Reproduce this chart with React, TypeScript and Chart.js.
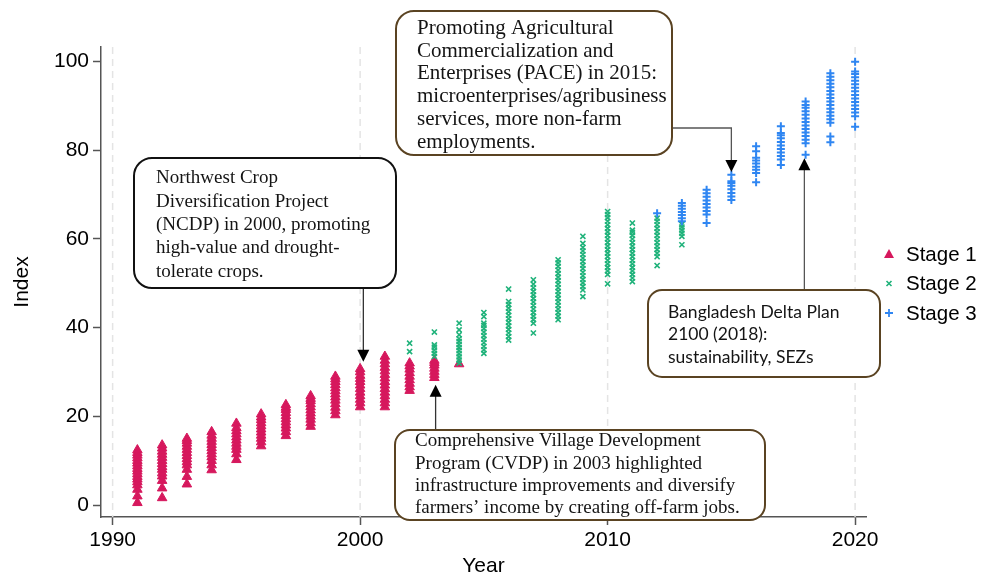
import React, { useEffect, useRef } from "react";
import { Chart, registerables } from "chart.js";

Chart.register(...registerables);

// ---------- DATA ----------
const seriesLabels = ["Stage 1", "Stage 2", "Stage 3"];
const seriesColors = ["#d6185d", "#1fb27a", "#2f86f2"];

const stage1Years = [1991, 1992, 1993, 1994, 1995, 1996, 1997, 1998, 1999, 2000, 2001, 2002, 2003, 2004];
const stage1Values = [
  [0.5, 2.0, 3.5, 4.5, 5.2, 5.8, 6.4, 7.0, 7.6, 8.2, 8.8, 9.4, 10.0, 10.6, 11.2, 11.8, 12.4],
  [1.6, 3.8, 5.5, 6.5, 7.2, 8.0, 8.6, 9.3, 10.0, 10.7, 11.4, 12.1, 12.8, 13.5],
  [4.7, 6.4, 8.0, 9.0, 9.7, 10.4, 11.1, 11.8, 12.5, 13.2, 13.9, 14.5, 15.0],
  [7.9, 9.0, 10.0, 10.8, 11.5, 12.2, 12.9, 13.6, 14.3, 15.0, 15.7, 16.5],
  [10.2, 11.5, 12.5, 13.2, 13.9, 14.6, 15.3, 16.0, 16.7, 17.4, 18.4],
  [13.3, 14.2, 15.0, 15.7, 16.4, 17.1, 17.8, 18.5, 19.2, 19.8, 20.5],
  [15.6, 16.5, 17.3, 18.0, 18.7, 19.4, 20.1, 20.8, 21.5, 22.0, 22.6],
  [17.7, 18.5, 19.3, 20.0, 20.7, 21.4, 22.1, 22.8, 23.5, 24.0, 24.6],
  [20.3, 21.2, 22.0, 22.8, 23.6, 24.3, 25.0, 25.7, 26.4, 27.1, 27.8, 28.4, 29.0],
  [22.1, 23.0, 23.8, 24.6, 25.4, 26.2, 27.0, 27.8, 28.5, 29.2, 30.0, 30.7],
  [22.1, 23.0, 23.8, 24.6, 25.4, 26.2, 27.0, 27.8, 28.6, 29.4, 30.2, 31.0, 31.8, 32.6, 33.5],
  [25.8, 26.6, 27.4, 28.2, 29.0, 29.8, 30.6, 31.3, 32.0],
  [28.7, 29.4, 30.1, 30.8, 31.5, 32.1, 32.6],
  [31.8],
];

const stage2Years = [2002, 2003, 2004, 2005, 2006, 2007, 2008, 2009, 2010, 2011, 2012, 2013];
const stage2Values = [
  [34.6, 36.5],
  [33.5, 34.2, 34.9, 35.6, 36.1, 39.0],
  [32.0, 32.7, 33.4, 34.1, 34.8, 35.5, 36.2, 36.9, 37.5, 38.4, 39.5, 41.0],
  [34.2, 35.0, 35.8, 36.6, 37.4, 38.2, 39.0, 39.8, 40.5, 41.0, 42.5, 43.4],
  [37.2, 38.0, 38.8, 39.6, 40.4, 41.2, 42.0, 42.8, 43.6, 44.4, 45.2, 45.9, 48.7],
  [38.8, 41.0, 41.8, 42.6, 43.4, 44.2, 45.0, 45.8, 46.6, 47.4, 48.2, 49.0, 49.8, 50.8],
  [41.8, 42.6, 43.4, 44.2, 45.0, 45.8, 46.6, 47.4, 48.2, 49.0, 49.8, 50.6, 51.4, 52.2, 53.0, 53.8, 54.6, 55.3],
  [47.0, 48.5, 49.3, 50.1, 50.9, 51.7, 52.5, 53.3, 54.1, 54.9, 55.7, 56.5, 57.3, 58.1, 59.0, 60.6],
  [49.9, 52.0, 52.8, 53.6, 54.4, 55.2, 56.0, 56.8, 57.6, 58.4, 59.2, 60.0, 60.8, 61.6, 62.4, 63.2, 64.0, 64.8, 65.5, 66.2],
  [50.4, 51.2, 52.0, 52.8, 53.6, 54.4, 55.2, 56.0, 56.8, 57.6, 58.4, 59.2, 60.0, 60.8, 61.5, 62.0, 63.6],
  [54.0, 56.0, 56.8, 57.6, 58.4, 59.2, 60.0, 60.8, 61.6, 62.4, 63.2, 64.0, 64.7],
  [58.7, 60.6, 61.3, 62.0, 62.7, 63.3],
];

const stage3Years = [2012, 2013, 2014, 2015, 2016, 2017, 2018, 2019, 2020];
const stage3Values = [
  [65.8],
  [64.0, 64.7, 65.4, 66.1, 66.8, 67.5, 68.1],
  [63.6, 65.5, 66.3, 67.1, 67.9, 68.7, 69.5, 70.3, 71.1],
  [68.8, 69.6, 70.4, 71.2, 72.0, 72.6, 73.0, 74.5],
  [72.8, 74.9, 75.6, 76.3, 77.0, 77.7, 78.3, 79.8, 80.9],
  [76.7, 77.9, 78.7, 79.5, 80.3, 81.1, 81.9, 82.7, 83.4, 83.9, 85.4],
  [79.0, 81.6, 82.4, 83.2, 84.0, 84.8, 85.6, 86.4, 87.2, 88.0, 88.8, 89.6, 90.2, 91.0],
  [81.8, 83.1, 86.2, 87.0, 87.8, 88.6, 89.4, 90.2, 91.0, 91.8, 92.6, 93.4, 94.2, 95.0, 95.8, 96.6, 97.4],
  [85.3, 87.7, 88.5, 89.3, 90.1, 90.9, 91.7, 92.5, 93.3, 94.1, 94.9, 95.7, 96.5, 97.2, 97.8, 100.0],
];

const xTickValues = [1990, 2000, 2010, 2020];
const yTickValues = [0, 20, 40, 60, 80, 100];

const ncdpLines = [
  "Northwest Crop",
  "Diversification Project",
  "(NCDP) in 2000, promoting",
  "high-value and drought-",
  "tolerate crops.",
];
const paceLines = [
  "Promoting Agricultural",
  "Commercialization and",
  "Enterprises (PACE) in 2015:",
  "microenterprises/agribusiness",
  "services, more non-farm",
  "employments.",
];
const cvdpLines = [
  "Comprehensive Village Development",
  "Program (CVDP) in 2003 highlighted",
  "infrastructure improvements and diversify",
  "farmers\u2019 income by creating off-farm jobs.",
];
const deltaLines = ["Bangladesh Delta Plan", "2100 (2018):", "sustainability, SEZs"];

function toPoints(years: number[], values: number[][]) {
  return years.flatMap((yr, i) => values[i].map((v) => ({ x: yr, y: v })));
}

// ---------- drawing helpers ----------
function roundRect(ctx: CanvasRenderingContext2D, x: number, y: number, w: number, h: number, r: number) {
  ctx.beginPath();
  ctx.moveTo(x + r, y);
  ctx.lineTo(x + w - r, y);
  ctx.arcTo(x + w, y, x + w, y + r, r);
  ctx.lineTo(x + w, y + h - r);
  ctx.arcTo(x + w, y + h, x + w - r, y + h, r);
  ctx.lineTo(x + r, y + h);
  ctx.arcTo(x, y + h, x, y + h - r, r);
  ctx.lineTo(x, y + r);
  ctx.arcTo(x, y, x + r, y, r);
  ctx.closePath();
}

function drawBox(
  ctx: CanvasRenderingContext2D,
  box: { x: number; y: number; w: number; h: number; r: number; stroke: string },
  lines: string[],
  text: { x: number; y0: number; dy: number; font: string }
) {
  ctx.save();
  roundRect(ctx, box.x, box.y, box.w, box.h, box.r);
  ctx.fillStyle = "#ffffff";
  ctx.fill();
  ctx.lineWidth = 2;
  ctx.strokeStyle = box.stroke;
  ctx.stroke();
  ctx.fillStyle = "#141414";
  ctx.font = text.font;
  ctx.textBaseline = "middle";
  ctx.textAlign = "left";
  lines.forEach((l, i) => ctx.fillText(l, text.x, text.y0 + i * text.dy));
  ctx.restore();
}

function arrowHead(ctx: CanvasRenderingContext2D, x: number, tipY: number, dir: number) {
  // dir = 1 pointing down, -1 pointing up
  const h = 12;
  const w = 6;
  ctx.beginPath();
  ctx.moveTo(x, tipY);
  ctx.lineTo(x - w, tipY - dir * h);
  ctx.lineTo(x + w, tipY - dir * h);
  ctx.closePath();
  ctx.fillStyle = "#000";
  ctx.fill();
}

const dashedGridPlugin = {
  id: "dashedGrid",
  beforeDatasetsDraw(chart: any) {
    const { ctx, chartArea, scales } = chart;
    ctx.save();
    ctx.strokeStyle = "#e4e4e4";
    ctx.lineWidth = 1.5;
    ctx.setLineDash([7, 5]);
    xTickValues.forEach((v) => {
      const px = scales.x.getPixelForValue(v);
      ctx.beginPath();
      ctx.moveTo(px, chartArea.top);
      ctx.lineTo(px, chartArea.bottom);
      ctx.stroke();
    });
    ctx.restore();
  },
};

const annotationPlugin = {
  id: "annotations",
  afterDraw(chart: any) {
    const { ctx, scales } = chart;
    const xs = scales.x;
    const ys = scales.y;
    ctx.save();

    ctx.strokeStyle = "#333";
    ctx.lineWidth = 1.3;

    // NCDP -> 2000
    const ax1 = xs.getPixelForValue(2000.13);
    const tip1 = ys.getPixelForValue(32.3);
    ctx.beginPath();
    ctx.moveTo(ax1, 288);
    ctx.lineTo(ax1, tip1 - 10);
    ctx.stroke();
    arrowHead(ctx, ax1, tip1, 1);

    // PACE -> 2015
    const ax2 = xs.getPixelForValue(2015.0);
    const tip2 = ys.getPixelForValue(75.1);
    ctx.strokeStyle = "#555";
    ctx.beginPath();
    ctx.moveTo(672, 128);
    ctx.lineTo(ax2, 128);
    ctx.lineTo(ax2, tip2 - 10);
    ctx.stroke();
    arrowHead(ctx, ax2, tip2, 1);

    // Delta plan -> 2018
    const ax3 = xs.getPixelForValue(2017.95);
    const tip3 = ys.getPixelForValue(78.2);
    ctx.strokeStyle = "#555";
    ctx.beginPath();
    ctx.moveTo(ax3, 290);
    ctx.lineTo(ax3, tip3 + 10);
    ctx.stroke();
    arrowHead(ctx, ax3, tip3, -1);

    // CVDP -> 2003
    const ax4 = xs.getPixelForValue(2003.05);
    const tip4 = ys.getPixelForValue(27.1);
    ctx.strokeStyle = "#333";
    ctx.beginPath();
    ctx.moveTo(ax4, 430);
    ctx.lineTo(ax4, tip4 + 10);
    ctx.stroke();
    arrowHead(ctx, ax4, tip4, -1);

    // boxes
    drawBox(
      ctx,
      { x: 134, y: 158, w: 262, h: 130, r: 18, stroke: "#111" },
      ncdpLines,
      { x: 156, y0: 178.5, dy: 23.3, font: '19px "Liberation Serif", "Times New Roman", serif' }
    );
    drawBox(
      ctx,
      { x: 396, y: 11, w: 276, h: 144, r: 18, stroke: "#5a4322" },
      paceLines,
      { x: 417, y0: 28.5, dy: 22.7, font: '21px "Liberation Serif", "Times New Roman", serif' }
    );
    drawBox(
      ctx,
      { x: 395, y: 430, w: 370, h: 90, r: 15, stroke: "#5a4322" },
      cvdpLines,
      { x: 415, y0: 441.5, dy: 22.2, font: '19px "Liberation Serif", "Times New Roman", serif' }
    );
    drawBox(
      ctx,
      { x: 648, y: 290, w: 232, h: 87, r: 14, stroke: "#5a4322" },
      deltaLines,
      { x: 668, y0: 312, dy: 22.5, font: '17.5px Lato, "Open Sans", sans-serif' }
    );

    // legend
    const lx = 889;
    const rows = [254, 283.5, 313];
    ctx.fillStyle = seriesColors[0];
    ctx.beginPath();
    ctx.moveTo(lx, rows[0] - 5);
    ctx.lineTo(lx - 5, rows[0] + 4);
    ctx.lineTo(lx + 5, rows[0] + 4);
    ctx.closePath();
    ctx.fill();
    ctx.strokeStyle = seriesColors[1];
    ctx.lineWidth = 1.6;
    ctx.beginPath();
    ctx.moveTo(lx - 2.5, rows[1] - 2.5);
    ctx.lineTo(lx + 2.5, rows[1] + 2.5);
    ctx.moveTo(lx + 2.5, rows[1] - 2.5);
    ctx.lineTo(lx - 2.5, rows[1] + 2.5);
    ctx.stroke();
    ctx.strokeStyle = seriesColors[2];
    ctx.lineWidth = 1.8;
    ctx.beginPath();
    ctx.moveTo(lx - 4, rows[2]);
    ctx.lineTo(lx + 4, rows[2]);
    ctx.moveTo(lx, rows[2] - 4);
    ctx.lineTo(lx, rows[2] + 4);
    ctx.stroke();

    ctx.fillStyle = "#000";
    ctx.font = '20.5px "Liberation Sans", Arial, sans-serif';
    ctx.textBaseline = "middle";
    ctx.textAlign = "left";
    seriesLabels.forEach((l, i) => ctx.fillText(l, 906, rows[i] + 1));

    ctx.restore();
  },
};

export default function App() {
  const canvasRef = useRef<HTMLCanvasElement | null>(null);

  useEffect(() => {
    if (!canvasRef.current) return;
    const tickFont = { family: '"Liberation Sans", Arial, sans-serif', size: 21 };
    const chart = new Chart(canvasRef.current, {
      type: "scatter",
      data: {
        datasets: [
          {
            label: seriesLabels[0],
            data: toPoints(stage1Years, stage1Values),
            pointStyle: "triangle",
            pointRadius: 5.5,
            backgroundColor: seriesColors[0],
            borderColor: seriesColors[0],
            borderWidth: 1,
            order: 3,
          },
          {
            label: seriesLabels[1],
            data: toPoints(stage2Years, stage2Values),
            pointStyle: "crossRot",
            pointRadius: 3.6,
            backgroundColor: seriesColors[1],
            borderColor: seriesColors[1],
            borderWidth: 1.6,
            order: 2,
          },
          {
            label: seriesLabels[2],
            data: toPoints(stage3Years, stage3Values),
            pointStyle: "cross",
            pointRadius: 4,
            backgroundColor: seriesColors[2],
            borderColor: seriesColors[2],
            borderWidth: 2,
            order: 1,
          },
        ],
      },
      options: {
        responsive: false,
        animation: false,
        events: [],
        layout: { padding: { top: 47, right: 116, bottom: 0, left: 0 } },
        plugins: { legend: { display: false }, tooltip: { enabled: false } },
        scales: {
          x: {
            type: "linear",
            position: "bottom",
            min: 1989.53,
            max: 2020.44,
            afterBuildTicks: (s: any) => {
              s.ticks = xTickValues.map((v) => ({ value: v }));
            },
            afterFit: (s: any) => {
              s.height = 65;
            },
            ticks: { font: tickFont, color: "#000", padding: 3, maxRotation: 0, callback: (v: any) => String(v) },
            grid: { display: true, drawOnChartArea: false, drawTicks: true, tickLength: 8, tickColor: "#555", tickWidth: 1.5 },
            border: { display: true, color: "#555", width: 1.5 },
            title: {
              display: true,
              text: "Year",
              font: tickFont,
              color: "#000",
              padding: { top: 0, bottom: 3 },
            },
          },
          y: {
            type: "linear",
            min: -2.7,
            max: 103.3,
            afterBuildTicks: (s: any) => {
              s.ticks = yTickValues.map((v) => ({ value: v }));
            },
            afterFit: (s: any) => {
              s.width = 101;
            },
            ticks: { font: tickFont, color: "#000", padding: 4, callback: (v: any) => String(v) },
            grid: { display: true, drawOnChartArea: false, drawTicks: true, tickLength: 8, tickColor: "#555", tickWidth: 1.5 },
            border: { display: true, color: "#555", width: 1.5 },
            title: {
              display: true,
              text: "Index",
              font: tickFont,
              color: "#000",
              padding: { top: 10, bottom: 0 },
            },
          },
        },
      },
      plugins: [dashedGridPlugin, annotationPlugin],
    } as any);
    return () => chart.destroy();
  }, []);

  return (
    <div style={{ position: "fixed", left: 0, top: 0, width: 982, height: 582, background: "#fff" }}>
      <canvas ref={canvasRef} width={982} height={582} style={{ width: 982, height: 582, display: "block" }} />
    </div>
  );
}
